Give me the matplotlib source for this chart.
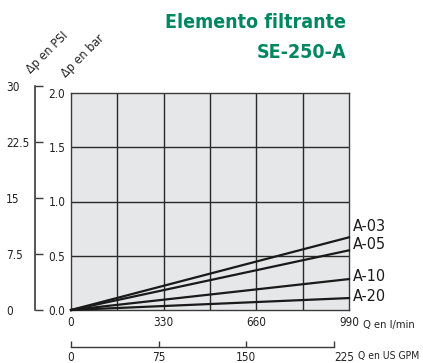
import numpy as np
import matplotlib
matplotlib.use("Agg")
import matplotlib.pyplot as plt

# Data
flow_lpm = [0, 990]
series_names = ["A-03", "A-05", "A-10", "A-20"]
dp_bar = {
    "A-03": [0.0, 0.67],
    "A-05": [0.0, 0.55],
    "A-10": [0.0, 0.285],
    "A-20": [0.0, 0.11],
}
lpm_ticks = [0, 330, 660, 990]
bar_ticks = [0.0, 0.5, 1.0, 1.5, 2.0]
bar_labels = ["0.0", "0.5", "1.0", "1.5", "2.0"]
psi_ticks = [0, 7.5, 15, 22.5, 30]
psi_labels = ["0", "7.5", "15", "22.5", "30"]
gpm_ticks = [0, 75, 150, 225]

GREEN = "#00875f"
plt.rcParams["font.family"] = ["DejaVu Sans"]
plt.rcParams["font.stretch"] = "condensed"

W, H = 423, 363
fig = plt.figure(figsize=(W / 100, H / 100), dpi=100)


def box(x0, y0, x1, y1):
    # pixel box (top-left origin) -> figure fraction
    return [x0 / W, 1 - y1 / H, (x1 - x0) / W, (y1 - y0) / H]


# main plot
ax = fig.add_axes(box(71, 93, 349, 310))
ax.set_facecolor("#e6e7e8")
ax.set_xlim(0, 990)
ax.set_ylim(0, 2.0)
for x in np.arange(165, 990, 165):
    ax.axvline(x, color="#2a2a2a", lw=1.0, zorder=1)
for y in bar_ticks[1:-1]:
    ax.axhline(y, color="#2a2a2a", lw=1.0, zorder=1)
for sp in ax.spines.values():
    sp.set_color("#3a3a3a")
    sp.set_linewidth(1.0)
ax.set_xticks(lpm_ticks)
ax.set_xticklabels([str(t) for t in lpm_ticks])
ax.set_yticks(bar_ticks)
ax.set_yticklabels(bar_labels)
ax.tick_params(length=0, labelsize=8.5, colors="#222222")
ax.tick_params(axis="x", pad=4)
ax.tick_params(axis="y", pad=4)
ax.text(1.05, -0.045, "Q en l/min", transform=ax.transAxes, fontsize=8,
        va="top", ha="left", color="#222222")

label_y = {"A-03": 0.765, "A-05": 0.60, "A-10": 0.305, "A-20": 0.12}
for name in series_names:
    ax.plot(flow_lpm, dp_bar[name], color="#1a1a1a", lw=1.6, zorder=3,
            clip_on=False)
    ax.text(1005, label_y[name], name, fontsize=11.5, va="center", ha="left",
            color="#1a1a1a", clip_on=False)

# PSI axis (left bracket)
psi_top = 310 - 217 * (30 / 14.5038) / 2.0
axp = fig.add_axes(box(35, psi_top, 36, 310))
axp.set_ylim(0, 30)
axp.set_xticks([])
axp.patch.set_visible(False)
for s in ["top", "right", "bottom"]:
    axp.spines[s].set_visible(False)
axp.spines["left"].set_color("#3a3a3a")
axp.spines["left"].set_linewidth(1.2)
axp.set_yticks(psi_ticks)
axp.set_yticklabels(psi_labels)
for lab in axp.get_yticklabels():
    lab.set_horizontalalignment("left")
axp.tick_params(axis="y", direction="in", length=6, width=1.0,
                color="#3a3a3a", labelsize=8.5, pad=21, labelcolor="#222222")

# GPM axis (bottom)
axg = fig.add_axes(box(71, 332, 334, 347))
axg.set_xlim(0, 225)
axg.set_yticks([])
axg.patch.set_visible(False)
for s in ["top", "right", "left"]:
    axg.spines[s].set_visible(False)
axg.spines["bottom"].set_color("#3a3a3a")
axg.spines["bottom"].set_linewidth(1.0)
axg.set_xticks(gpm_ticks)
axg.set_xticklabels([str(t) for t in gpm_ticks])
axg.get_xticklabels()[-1].set_horizontalalignment("left")
axg.tick_params(axis="x", direction="in", length=4, width=1.0,
                color="#3a3a3a", labelsize=8.5, pad=3, labelcolor="#222222")
axg.text(1.09, -0.3, "Q en US GPM", transform=axg.transAxes, fontsize=7.5,
         va="top", ha="left", color="#222222")

# rotated axis titles
fig.text(33 / W, 1 - 76 / H, "\u0394p en PSI", rotation=45, fontsize=9,
         ha="left", va="bottom", rotation_mode="anchor", color="#222222")
fig.text(68 / W, 1 - 80 / H, "\u0394p en bar", rotation=45, fontsize=9,
         ha="left", va="bottom", rotation_mode="anchor", color="#222222")

# title
fig.text(346 / W, 1 - 23 / H, "Elemento filtrante", fontsize=14,
         fontweight="bold", color=GREEN, ha="right", va="center")
fig.text(346 / W, 1 - 53 / H, "SE-250-A", fontsize=14,
         fontweight="bold", color=GREEN, ha="right", va="center")

fig.savefig("out.png", dpi=100)
